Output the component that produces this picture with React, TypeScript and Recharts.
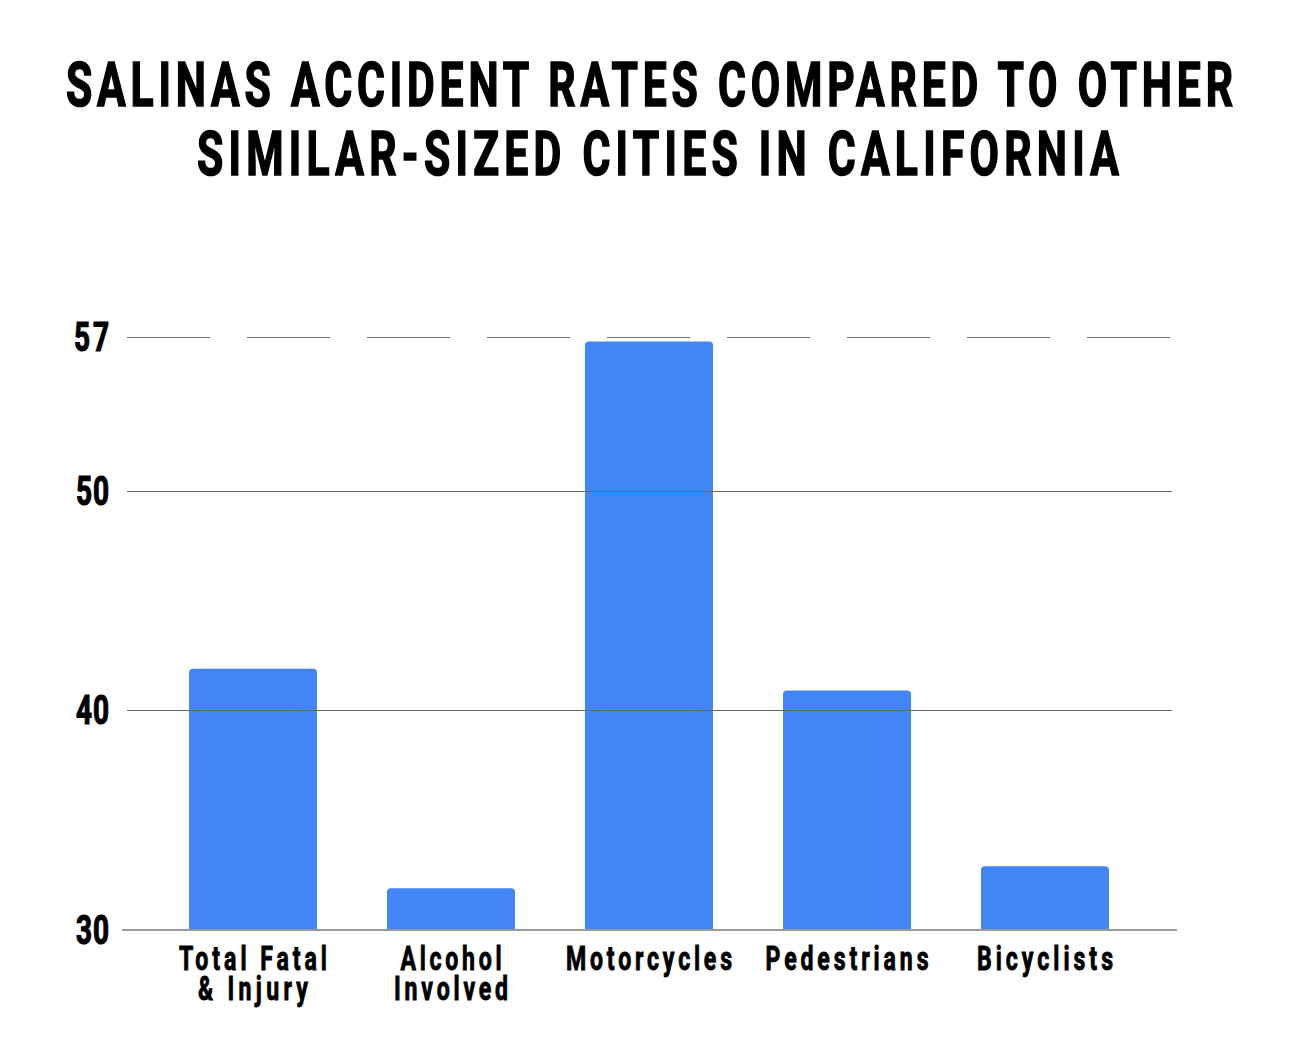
import { Bar, BarChart, ReferenceLine, XAxis, YAxis } from "recharts";

const categories = ["Total Fatal\n& Injury", "Alcohol\nInvolved", "Motorcycles", "Pedestrians", "Bicyclists"];
const rates = [41.9, 31.9, 56.8, 40.9, 32.9];
const yTicks = [30, 40, 50, 57];
const gridValues = [57, 50, 40];

const titleLines = ["SALINAS ACCIDENT RATES COMPARED TO OTHER", "SIMILAR-SIZED CITIES IN CALIFORNIA"];

const data = categories.map((category, i) => ({ category, rate: rates[i] }));

const FONT = "Roboto, 'Noto Sans', sans-serif";
// the reference uses a tall condensed face, so squeeze Roboto sideways
const SQUEEZE = 0.7;

// rough widths measured off the reference, used to pin text length
const labelWidths: Record<string, number> = {
  "Total Fatal": 148,
  "& Injury": 110,
  Alcohol: 101,
  Involved: 114,
  Motorcycles: 166,
  Pedestrians: 163,
  Bicyclists: 136,
};

function CondensedText({ x, y, width, size, anchor, heavy, children }: any) {
  return (
    <text
      transform={`translate(${x}, ${y}) scale(${SQUEEZE}, 1)`}
      textAnchor={anchor}
      fontFamily={FONT}
      fontWeight={700}
      fontSize={size}
      fill="#000"
      stroke="#000"
      strokeWidth={heavy}
      textLength={width / SQUEEZE}
      lengthAdjust="spacing"
    >
      {children}
    </text>
  );
}

function CategoryTick({ x, y, payload }: any) {
  const lines = String(payload.value).split("\n");
  return (
    <text
      transform={`translate(${x}, ${y}) scale(${SQUEEZE}, 1)`}
      textAnchor="middle"
      fontFamily={FONT}
      fontWeight={700}
      fontSize={33}
      fill="#000"
      stroke="#000"
      strokeWidth={0.9}
    >
      {lines.map((line, i) => (
        <tspan key={line} x={0} y={38 + i * 30} textLength={labelWidths[line] / SQUEEZE} lengthAdjust="spacing">
          {line}
        </tspan>
      ))}
    </text>
  );
}

function ValueTick({ y, payload }: any) {
  return (
    <CondensedText x={109} y={y + 14} width={payload.value === 57 ? 35 : 33} size={40} anchor="end" heavy={1.2}>
      {payload.value}
    </CondensedText>
  );
}

function GridLine(dashed: boolean) {
  return (props: any) => (
    <line
      x1={props.x1 + 5}
      x2={props.x2 - 5}
      y1={Math.round(props.y1) + 0.5}
      y2={Math.round(props.y2) + 0.5}
      stroke={dashed ? "#67767e" : "#666666"}
      strokeWidth={1}
      strokeDasharray={dashed ? "83 37" : undefined}
    />
  );
}

export default function App() {
  return (
    <div style={{ position: "absolute", left: 0, top: 0, width: 1301, height: 1060, background: "#fff" }}>
      <svg width={1301} height={200} style={{ position: "absolute", left: 0, top: 0 }}>
        <CondensedText x={66} y={106} width={1167} size={61} anchor="start" heavy={1.6}>
          {titleLines[0]}
        </CondensedText>
        <CondensedText x={197} y={175} width={922} size={61} anchor="start" heavy={1.6}>
          {titleLines[1]}
        </CondensedText>
      </svg>
      <div style={{ position: "absolute", left: 0, top: 0 }}>
        <BarChart
          width={1301}
          height={1060}
          data={data}
          margin={{ top: 337, right: 124, bottom: 30, left: 42 }}
        >
          <YAxis
            type="number"
            domain={[30, 57]}
            ticks={yTicks}
            interval={0}
            width={80}
            axisLine={false}
            tickLine={false}
            tickSize={0}
            tick={<ValueTick />}
          />
          <XAxis
            dataKey="category"
            height={100}
            padding={{ left: 32, right: 33 }}
            axisLine={{ stroke: "#9a9a9a", strokeWidth: 2 }}
            tickLine={false}
            tickSize={0}
            interval={0}
            tick={<CategoryTick />}
          />
          {gridValues.map((v) => (
            <ReferenceLine key={v} y={v} shape={GridLine(v === 57)} />
          ))}
          <Bar dataKey="rate" fill="#4285f4" barSize={128} radius={[4, 4, 0, 0]} isAnimationActive={false} />
        </BarChart>
      </div>
    </div>
  );
}
